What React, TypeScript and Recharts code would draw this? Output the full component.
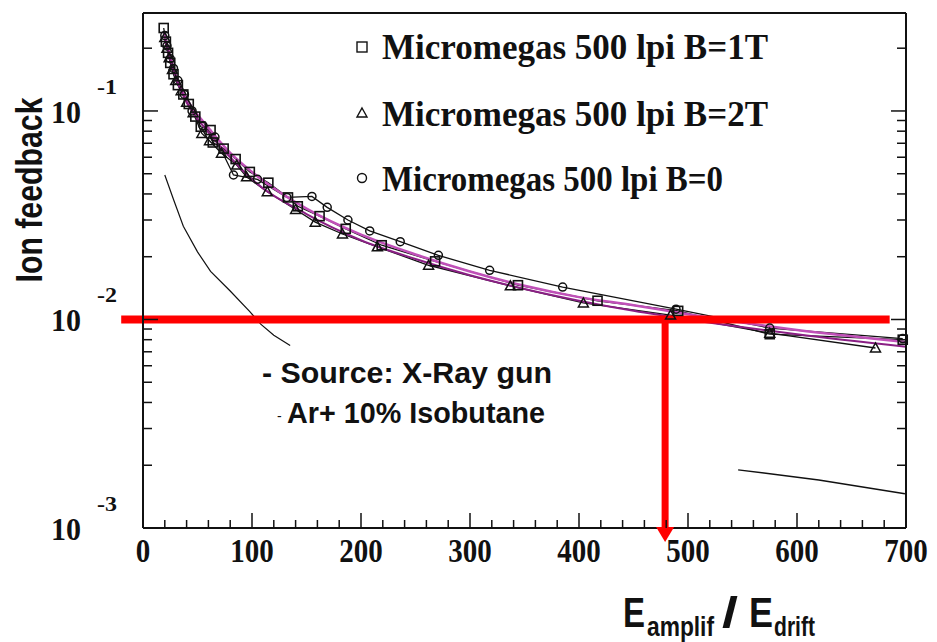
import { LineChart, Line, XAxis, YAxis, ReferenceLine, ReferenceDot } from 'recharts';

// ion feedback vs field ratio
const b1T: [number, number][] = [
    [19, 0.25], [21, 0.215], [23, 0.19], [25, 0.17], [28, 0.15], [32, 0.133], [37, 0.12],
    [42, 0.108], [48, 0.094], [53, 0.084], [62, 0.081], [64, 0.0706], [74, 0.066], [85, 0.0588],
    [98, 0.051], [115, 0.0453], [133, 0.0385], [142, 0.0349], [162, 0.0313], [186, 0.0272],
    [219, 0.0227], [268, 0.019], [344, 0.0146], [417, 0.0123], [491, 0.011], [575, 0.0085], [697, 0.008],
];
const b2T: [number, number][] = [
    [20, 0.225], [22, 0.2], [24, 0.18], [27, 0.158], [30, 0.14], [35, 0.125], [40, 0.11],
    [46, 0.098], [54, 0.078], [61, 0.072], [72, 0.0627], [86, 0.055], [95, 0.0483], [114, 0.041],
    [140, 0.0337], [158, 0.0293], [183, 0.0257], [215, 0.0223], [262, 0.0182], [337, 0.0145],
    [404, 0.012], [484, 0.0105], [575, 0.0086], [672, 0.0073],
];
const b0: [number, number][] = [
    [20, 0.23], [22, 0.205], [25, 0.178], [28, 0.16], [32, 0.14], [38, 0.12], [45, 0.1],
    [55, 0.085], [66, 0.075], [83, 0.0493], [105, 0.047], [132, 0.0385], [155, 0.0389],
    [169, 0.0345], [188, 0.03], [208, 0.0266], [236, 0.0236], [271, 0.0203], [318, 0.0172],
    [385, 0.0143], [489, 0.0112], [575, 0.0091], [697, 0.0081],
];
// magenta fits
const fitA: [number, number][] = [
    [19, 0.24], [30, 0.15], [40, 0.115], [60, 0.083], [80, 0.063], [100, 0.051], [150, 0.034],
    [200, 0.0255], [250, 0.0205], [300, 0.017], [350, 0.0145], [400, 0.0128], [450, 0.0117],
    [500, 0.0106], [600, 0.0089], [700, 0.0078],
];
const fitB: [number, number][] = [
    [20, 0.22], [30, 0.145], [40, 0.11], [60, 0.079], [80, 0.06], [100, 0.047], [150, 0.032],
    [200, 0.024], [250, 0.0195], [300, 0.0163], [350, 0.014], [400, 0.0123], [450, 0.011],
    [500, 0.01], [600, 0.0085], [700, 0.0074],
];
// thin black curve, partly hidden behind the text box
const lowA: [number, number][] = [
    [20, 0.0493], [28, 0.0376], [37, 0.028], [50, 0.0211], [62, 0.017], [80, 0.0137],
    [98, 0.0109], [108, 0.0095], [120, 0.0084], [135, 0.0075],
];
const lowB: [number, number][] = [[546, 0.0019], [620, 0.0017], [699, 0.00146]];

const xTicks = Array.from({ length: 36 }, (_, i) => i * 20);
const yTicks = [
    0.001, 0.002, 0.003, 0.004, 0.005, 0.006, 0.007, 0.008, 0.009,
    0.01, 0.02, 0.03, 0.04, 0.05, 0.06, 0.07, 0.08, 0.09, 0.1, 0.2,
];
const yExp: Record<string, string> = { '0.001': '-3', '0.01': '-2', '0.1': '-1' };

const legendNames = ['Micromegas 500 lpi B=1T', 'Micromegas 500 lpi B=2T', 'Micromegas 500 lpi B=0'];
const noteLines = ['- Source: X-Ray gun', 'Ar+ 10% Isobutane'];

const pts = (a: [number, number][]) => a.map(([x, y]) => ({ x, y }));

const SERIF = '"Liberation Serif", "DejaVu Serif", serif';
const NARROW = '"Liberation Sans Narrow", "Liberation Sans", Arial, sans-serif';
const INK = '#111';

const sq = (p: any) =>
    p.cx == null ? <g key={`s${p.index}`} /> : (
        <rect key={`s${p.index}`} x={p.cx - 4.5} y={p.cy - 4.5} width={9} height={9} fill="none" stroke={INK} strokeWidth={1.6} />
    );
const tri = (p: any) =>
    p.cx == null ? <g key={`t${p.index}`} /> : (
        <polygon key={`t${p.index}`} points={`${p.cx},${p.cy - 5} ${p.cx + 5},${p.cy + 4} ${p.cx - 5},${p.cy + 4}`} fill="none" stroke={INK} strokeWidth={1.5} />
    );
const circ = (p: any) =>
    p.cx == null ? <g key={`c${p.index}`} /> : (
        <circle key={`c${p.index}`} cx={p.cx} cy={p.cy} r={4} fill="none" stroke={INK} strokeWidth={1.5} />
    );

const BottomTick = ({ x, y, payload }: any) => {
    const major = payload.value % 100 === 0;
    const s = String(payload.value);
    return (
        <g>
            <line x1={x} x2={x} y1={y} y2={y - (major ? 15 : 8)} stroke={INK} strokeWidth={1.5} />
            {major && (
                <text x={x} y={y + 34} textAnchor="middle" fontFamily={SERIF} fontWeight="bold" fontSize={33}
                    textLength={s.length * 14.5} lengthAdjust="spacingAndGlyphs" fill={INK}>{s}</text>
            )}
        </g>
    );
};
const TopTick = ({ x, y, payload }: any) => {
    const major = payload.value % 100 === 0;
    return <line x1={x} x2={x} y1={y} y2={y + (major ? 15 : 8)} stroke={INK} strokeWidth={1.5} />;
};
const LeftTick = ({ x, y, payload }: any) => {
    const e = yExp[String(payload.value)];
    return (
        <g>
            <line x1={x} x2={x + (e ? 15 : 9)} y1={y} y2={y} stroke={INK} strokeWidth={1.5} />
            {e && (
                <g fontFamily={SERIF} fontWeight="bold" fill={INK}>
                    <text x={x - 62} y={y + 12} textAnchor="end" fontSize={32} textLength={30} lengthAdjust="spacingAndGlyphs">10</text>
                    <text x={x - 46} y={y - 17} fontSize={21} textLength={20} lengthAdjust="spacingAndGlyphs">{e}</text>
                </g>
            )}
        </g>
    );
};
const RightTick = ({ x, y, payload }: any) => {
    const e = yExp[String(payload.value)];
    return <line x1={x} x2={x - (e ? 15 : 9)} y1={y} y2={y} stroke={INK} strokeWidth={1.5} />;
};

const arrowHead = (p: any) => (
    <polygon points={`${p.cx - 9},${p.cy - 1} ${p.cx + 9},${p.cy - 1} ${p.cx},${p.cy + 14}`} fill="#ff0000" />
);

export default function App() {
    const axisLine = { stroke: INK, strokeWidth: 2 };
    return (
        <div style={{ position: 'absolute', left: 0, top: 0, width: 937, height: 642, background: '#fff' }}>
            <LineChart width={937} height={642} margin={{ top: 12, right: 30, bottom: 0, left: 63 }}>
                <XAxis xAxisId="b" type="number" dataKey="x" domain={[0, 700]} ticks={xTicks} interval={0}
                    tick={<BottomTick />} tickLine={false} tickSize={0} tickMargin={0} axisLine={axisLine} height={114} />
                <XAxis xAxisId="t" orientation="top" type="number" dataKey="x" domain={[0, 700]} ticks={xTicks} interval={0}
                    tick={<TopTick />} tickLine={false} tickSize={0} tickMargin={0} axisLine={axisLine} height={1} />
                <YAxis yAxisId="l" type="number" scale="log" domain={[0.001, 0.295]} allowDataOverflow ticks={yTicks} interval={0}
                    tick={<LeftTick />} tickLine={false} tickSize={0} tickMargin={0} axisLine={axisLine} width={80} />
                <YAxis yAxisId="r" orientation="right" type="number" scale="log" domain={[0.001, 0.295]} allowDataOverflow ticks={yTicks} interval={0}
                    tick={<RightTick />} tickLine={false} tickSize={0} tickMargin={0} axisLine={axisLine} width={1} />

                <Line xAxisId="b" yAxisId="l" data={pts(lowA)} dataKey="y" stroke={INK} strokeWidth={1.2} dot={false} isAnimationActive={false} />
                <Line xAxisId="b" yAxisId="l" data={pts(lowB)} dataKey="y" stroke={INK} strokeWidth={1.5} dot={false} isAnimationActive={false} />
                <Line xAxisId="b" yAxisId="l" data={pts(b0)} dataKey="y" stroke={INK} strokeWidth={1.3} dot={circ} isAnimationActive={false} />
                <Line xAxisId="b" yAxisId="l" data={pts(b2T)} dataKey="y" stroke={INK} strokeWidth={1.3} dot={tri} isAnimationActive={false} />
                <Line xAxisId="b" yAxisId="l" data={pts(b1T)} dataKey="y" stroke={INK} strokeWidth={1.3} dot={sq} isAnimationActive={false} />
                <Line xAxisId="b" yAxisId="l" type="monotone" data={pts(fitA)} dataKey="y" stroke="#c050b8" strokeWidth={2.5} dot={false} isAnimationActive={false} />
                <Line xAxisId="b" yAxisId="l" type="monotone" data={pts(fitB)} dataKey="y" stroke="#8a1f84" strokeWidth={2} dot={false} isAnimationActive={false} />

                <ReferenceLine xAxisId="b" yAxisId="l" ifOverflow="visible" stroke="#ff0000" strokeWidth={8}
                    segment={[{ x: -20, y: 0.01 }, { x: 685, y: 0.01 }]} />
                <ReferenceLine xAxisId="b" yAxisId="l" ifOverflow="visible" stroke="#ff0000" strokeWidth={7}
                    segment={[{ x: 479, y: 0.01 }, { x: 479, y: 0.001 }]} />
                <ReferenceDot xAxisId="b" yAxisId="l" x={479} y={0.001} ifOverflow="visible" shape={arrowHead} />
            </LineChart>

            <svg width={937} height={642} style={{ position: 'absolute', left: 0, top: 0, pointerEvents: 'none' }}>
                {/* legend */}
                <rect x={357} y={42} width={10} height={10} fill="none" stroke={INK} strokeWidth={1.4} />
                <polygon points="362,108 367,117 357,117" fill="none" stroke={INK} strokeWidth={1.4} />
                <circle cx={362} cy={178} r={4.5} fill="none" stroke={INK} strokeWidth={1.4} />
                {legendNames.map((n, i) => (
                    <text key={n} x={382} y={[59, 126, 191][i]} fontFamily={SERIF} fontWeight="bold" fontSize={36}
                        textLength={i === 2 ? 341 : 386} lengthAdjust="spacingAndGlyphs" fill={INK}>{n}</text>
                ))}

                {/* note */}
                <text x={262} y={383} fontFamily={NARROW} fontWeight="bold" fontSize={30} textLength={290} lengthAdjust="spacingAndGlyphs" fill={INK}>{noteLines[0]}</text>
                <text x={277} y={421} fontFamily={NARROW} fontSize={14} fill={INK}>-</text>
                <text x={287} y={423} fontFamily={NARROW} fontWeight="bold" fontSize={30} textLength={258} lengthAdjust="spacingAndGlyphs" fill={INK}>{noteLines[1]}</text>

                {/* axis titles */}
                <text transform="translate(42,190) rotate(-90)" textAnchor="middle" fontFamily={NARROW} fontWeight="bold" fontSize={36}
                    textLength={185} lengthAdjust="spacingAndGlyphs" fill={INK}>Ion feedback</text>
                <g fontFamily={NARROW} fontWeight="bold" fill={INK}>
                    <text x={623} y={627} fontSize={43} textLength={22} lengthAdjust="spacingAndGlyphs">E</text>
                    <text x={647} y={636} fontSize={27} textLength={67} lengthAdjust="spacingAndGlyphs">amplif</text>
                    <text x={722} y={627} fontSize={43} textLength={16} lengthAdjust="spacingAndGlyphs">/</text>
                    <text x={749} y={627} fontSize={43} textLength={24} lengthAdjust="spacingAndGlyphs">E</text>
                    <text x={774} y={636} fontSize={27} textLength={41} lengthAdjust="spacingAndGlyphs">drift</text>
                </g>
            </svg>
        </div>
    );
}
